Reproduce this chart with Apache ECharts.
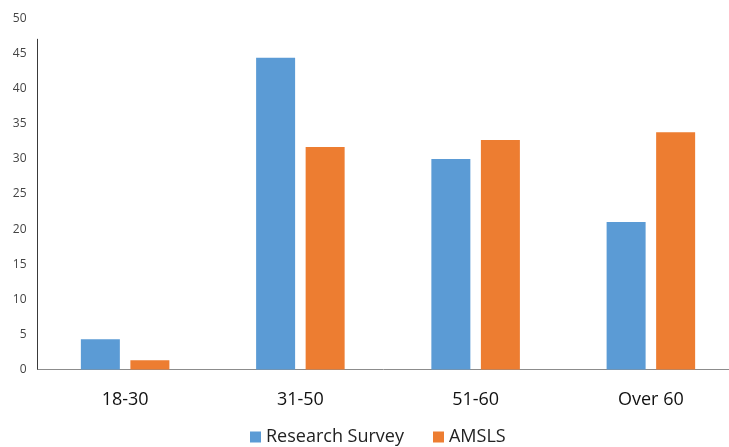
<!DOCTYPE html>
<html>
<head>
<meta charset="utf-8">
<script src="https://cdn.jsdelivr.net/npm/echarts@6/dist/echarts.min.js"></script>
<style>
  html, body { margin: 0; padding: 0; background: #ffffff; }
  #chart { width: 729px; height: 447px; }
</style>
</head>
<body>
<div id="chart"></div>
<script>
// Age groups and the share of respondents in each (percent)
var categories = ['18-30', '31-50', '51-60', 'Over 60'];
var researchSurvey = [4.3, 44.4, 30.0, 21.0];
var amsls = [1.3, 31.7, 32.7, 33.8];
var seriesNames = ['Research Survey', 'AMSLS'];
var yTicks = { min: 0, max: 50, interval: 5 };

var FONT = '"Open Sans", sans-serif';

var chart = echarts.init(document.getElementById('chart'), null, { renderer: 'canvas' });

chart.setOption({
  animation: false,
  backgroundColor: '#ffffff',
  grid: {
    left: 37.5, right: -9.5, top: 18.5, bottom: 77.5,
    containLabel: false, outerBoundsMode: 'none'
  },
  legend: {
    top: 423,
    left: 245,
    itemWidth: 11,
    itemHeight: 11,
    itemGap: 29,
    icon: 'rect',
    textStyle: { fontFamily: FONT, fontSize: 18, color: '#222222' },
    data: seriesNames
  },
  xAxis: {
    type: 'category',
    data: categories,
    axisLine: { lineStyle: { color: '#8c8c8c', width: 1 } },
    axisTick: { show: false },
    axisLabel: { fontFamily: FONT, fontSize: 18, color: '#111111', margin: 21 }
  },
  yAxis: {
    type: 'value',
    min: yTicks.min,
    max: yTicks.max,
    interval: yTicks.interval,
    axisLine: { show: false },
    axisTick: { show: false },
    splitLine: { show: false },
    axisLabel: { fontFamily: FONT, fontSize: 12, color: '#444444', margin: 11 }
  },
  series: [
    {
      name: seriesNames[0],
      type: 'bar',
      data: researchSurvey,
      barWidth: 39,
      barGap: '27%',
      itemStyle: { color: '#5b9bd5' }
    },
    {
      name: seriesNames[1],
      type: 'bar',
      data: amsls,
      barWidth: 39,
      itemStyle: { color: '#ed7d31' }
    }
  ]
});

// Vertical axis rule at the left edge of the plot, from the baseline up to just above the 45 tick
function drawYAxisRule() {
  var c0 = chart.convertToPixel({ xAxisIndex: 0 }, 0);
  var c1 = chart.convertToPixel({ xAxisIndex: 0 }, 1);
  var x = c0 - (c1 - c0) / 2;
  var y0 = chart.convertToPixel({ yAxisIndex: 0 }, 0);
  var y1 = chart.convertToPixel({ yAxisIndex: 0 }, 47.1);
  chart.setOption({
    graphic: [{
      type: 'line',
      shape: { x1: Math.floor(x) + 0.5, y1: y1, x2: Math.floor(x) + 0.5, y2: y0 },
      style: { stroke: '#3a3a3a', lineWidth: 1 },
      z: 10
    }]
  });
}
drawYAxisRule();
</script>
</body>
</html>
